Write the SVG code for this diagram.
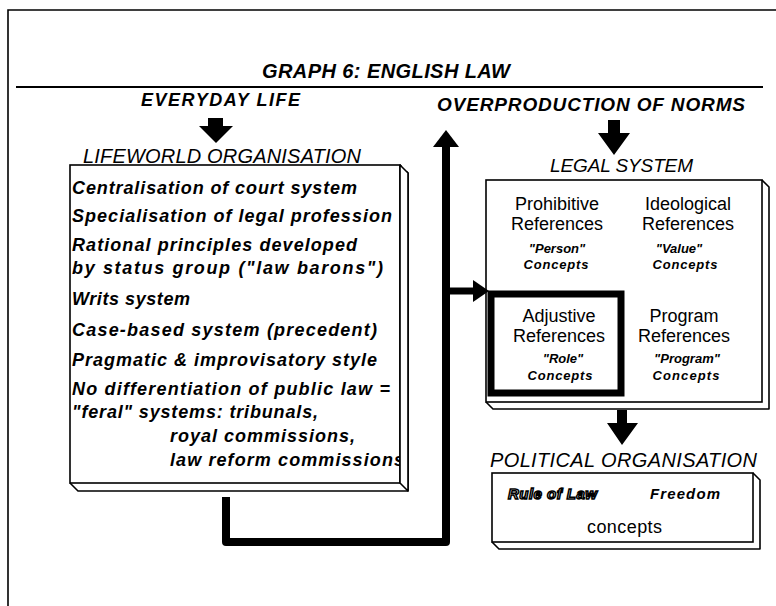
<svg xmlns="http://www.w3.org/2000/svg" width="776" height="606" viewBox="0 0 776 606">
<style>
.bi{font-family:"Liberation Sans",Arial,sans-serif;font-weight:bold;font-style:italic;fill:#000}
.it{font-family:"Liberation Sans",Arial,sans-serif;font-style:italic;fill:#000}
.rg{font-family:"Liberation Sans",Arial,sans-serif;fill:#000}
.face{fill:#fff;stroke:#000;stroke-width:1.6}
.ext{fill:#fff;stroke:#000;stroke-width:1.6;stroke-linejoin:round}
.sm{font-size:13px}
.ref{font-size:18px;text-anchor:middle}
.lw{font-size:18px}
</style>
<rect x="0" y="0" width="776" height="606" fill="#fff"/>
<g id="frame">
<path d="M8,606 V10 H776" fill="none" stroke="#000" stroke-width="1.6"/>
<line x1="16" y1="87" x2="763" y2="87" stroke="#000" stroke-width="2"/>
</g>
<g id="title">
<text class="bi" x="262" y="78" font-size="20" textLength="248">GRAPH 6: ENGLISH LAW</text>
</g>
<g id="everyday-life">
<text class="bi" x="141" y="106" font-size="18" textLength="159">EVERYDAY LIFE</text>
<polygon points="208,118 223,118 223,126 233,126 216,143 199,126 208,126" fill="#000"/>
</g>
<g id="overproduction">
<text class="bi" x="437" y="111" font-size="19" textLength="308">OVERPRODUCTION OF NORMS</text>
<polygon points="608,120 620,120 620,133 630,133 614,155 598,133 608,133" fill="#000"/>
</g>
<g id="lifeworld">
<path class="ext" d="M400,165 L408,173 L408,491 L78,491 L70,483"/>
<text class="bi lw" x="72" y="194" textLength="285">Centralisation of court system</text>
<text class="bi lw" x="72" y="222" textLength="320">Specialisation of legal profession</text>
<text class="bi lw" x="72" y="251" textLength="285">Rational principles developed</text>
<text class="bi lw" x="72" y="274" textLength="311">by status group ("law barons")</text>
<text class="bi lw" x="72" y="305" textLength="118">Writs system</text>
<text class="bi lw" x="72" y="336" textLength="305">Case-based system (precedent)</text>
<text class="bi lw" x="72" y="366" textLength="305">Pragmatic &amp; improvisatory style</text>
<text class="bi lw" x="72" y="395" textLength="318">No differentiation of public law =</text>
<text class="bi lw" x="72" y="418" textLength="246">"feral" systems: tribunals,</text>
<text class="bi lw" x="170" y="442" textLength="185">royal commissions,</text>
<text class="bi lw" x="170" y="466" textLength="234">law reform commissions</text>
<rect x="70" y="165" width="330" height="318" fill="none" stroke="#000" stroke-width="1.6"/>
<rect x="400" y="166" width="7" height="324" fill="#fff"/>
<path class="ext" d="M400,165 L408,173 L408,491 L400,483 Z"/>
<text class="it" x="83" y="163" font-size="20" textLength="278">LIFEWORLD ORGANISATION</text>
</g>
<g id="legal-system">
<text class="it" x="550" y="172" font-size="19" textLength="143">LEGAL SYSTEM</text>
<path class="ext" d="M762,180 L769,187 L769,409 L493,409 L486,402"/>
<rect class="face" x="486" y="180" width="276" height="222"/>
<text class="rg ref" x="557" y="210">Prohibitive</text>
<text class="rg ref" x="557" y="230">References</text>
<text class="bi sm" x="557" y="253" text-anchor="middle">"Person"</text>
<text class="bi sm" x="556" y="269" text-anchor="middle" textLength="65">Concepts</text>
<text class="rg ref" x="688" y="210">Ideological</text>
<text class="rg ref" x="688" y="230">References</text>
<text class="bi sm" x="679" y="253" text-anchor="middle">"Value"</text>
<text class="bi sm" x="685" y="269" text-anchor="middle" textLength="65">Concepts</text>
<rect x="491" y="294" width="130" height="99" fill="none" stroke="#000" stroke-width="7"/>
<text class="rg ref" x="559" y="322">Adjustive</text>
<text class="rg ref" x="559" y="342">References</text>
<text class="bi sm" x="563" y="363" text-anchor="middle">"Role"</text>
<text class="bi sm" x="560" y="380" text-anchor="middle" textLength="65">Concepts</text>
<text class="rg ref" x="684" y="322">Program</text>
<text class="rg ref" x="684" y="342">References</text>
<text class="bi sm" x="687" y="363" text-anchor="middle">"Program"</text>
<text class="bi sm" x="686" y="380" text-anchor="middle" textLength="67">Concepts</text>
<polygon points="617,410 627,410 627,423 638,423 622,445 607,423 617,423" fill="#000"/>
</g>
<g id="political">
<text class="it" x="490" y="467" font-size="20" textLength="267">POLITICAL ORGANISATION</text>
<path class="ext" d="M753,473 L760,480 L760,549 L499,549 L492,542"/>
<rect class="face" x="492" y="473" width="261" height="69" stroke-width="2"/>
<text class="bi" x="508" y="499" font-size="15" textLength="89" stroke="#000" stroke-width="1.5" style="fill:#fff">Rule of Law</text>
<text class="bi" x="650" y="499" font-size="15" textLength="70">Freedom</text>
<text class="rg" x="587" y="533" font-size="18" textLength="75">concepts</text>
</g>
<g id="connectors">
<path d="M226,497 V542 H446 V146" fill="none" stroke="#000" stroke-width="8" stroke-linejoin="round"/>
<polygon points="433,147 459,147 446,130" fill="#000"/>
<line x1="446" y1="291" x2="474" y2="291" stroke="#000" stroke-width="7"/>
<polygon points="473,280 473,302 489,291" fill="#000"/>
</g>
</svg>
